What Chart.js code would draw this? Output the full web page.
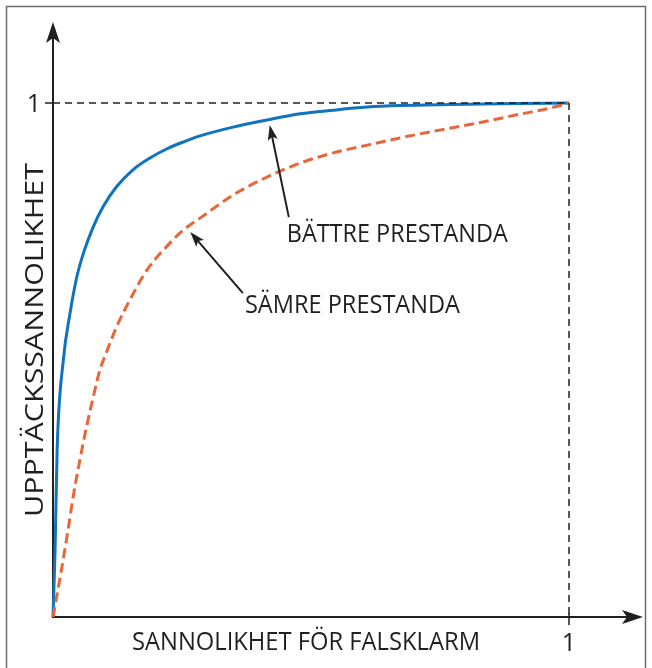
<!DOCTYPE html>
<html>
<head>
<meta charset="utf-8">
<script src="https://cdn.jsdelivr.net/npm/chart.js@4"></script>
<style>
  html, body { margin: 0; padding: 0; background: #fff; }
  canvas { display: block; }
</style>
</head>
<body>
<canvas id="roc" width="652" height="668"></canvas>
<script>
// Data (false alarm prob. -> detection prob.)
const betterFpr = [0, 0.004, 0.008, 0.020, 0.033, 0.046, 0.059, 0.078, 0.097, 0.123, 0.155, 0.188, 0.221, 0.252, 0.285, 0.349, 0.415, 0.479, 0.543, 0.609, 0.672, 0.769, 0.90, 1];
const betterTpr = [0, 0.130, 0.325, 0.500, 0.591, 0.661, 0.708, 0.759, 0.798, 0.837, 0.870, 0.893, 0.911, 0.924, 0.936, 0.953, 0.967, 0.979, 0.986, 0.992, 0.995, 0.997, 0.999, 1];

const worseFpr = [0, 0.014, 0.027, 0.039, 0.052, 0.065, 0.078, 0.091, 0.104, 0.123, 0.149, 0.182, 0.214, 0.253, 0.285, 0.349, 0.415, 0.479, 0.543, 0.609, 0.672, 0.769, 0.833, 0.899, 0.963, 1];
const worseTpr = [0, 0.078, 0.156, 0.233, 0.305, 0.370, 0.428, 0.481, 0.516, 0.564, 0.617, 0.675, 0.714, 0.753, 0.776, 0.821, 0.856, 0.883, 0.903, 0.918, 0.932, 0.951, 0.963, 0.977, 0.990, 1];

// Reference box: (0,1) -> (1,1) -> (1,0)
const refX = [0, 1, 1];
const refY = [1, 1, 0];

const xTitle = 'SANNOLIKHET FÖR FALSKLARM';
const yTitle = 'UPPTÄCKSSANNOLIKHET';
const tickLabel = '1';

// Annotations: arrow tip (on curve), arrow tail, label anchor (data units)
const notes = [
    { text: 'BÄTTRE PRESTANDA', tip: [0.42, 0.957], tail: [0.457, 0.778], at: [0.453, 0.730], width: 221 },
    { text: 'SÄMRE PRESTANDA', tip: [0.266, 0.749], tail: [0.368, 0.630], at: [0.372, 0.592], width: 215 }
];

const INK = '#231f20';
const FONT = '"Open Sans", "Noto Sans", sans-serif';

const toPoints = (xs, ys) => xs.map((x, i) => ({ x: x, y: ys[i] }));

// draw text squeezed/stretched to a target width
function fitText(ctx, text, x, y, width, size) {
    ctx.font = `${size}px ${FONT}`;
    const w = ctx.measureText(text).width;
    ctx.save();
    ctx.translate(x, y);
    ctx.scale(width / w, 1);
    ctx.textAlign = 'left';
    ctx.textBaseline = 'alphabetic';
    ctx.fillText(text, 0, 0);
    ctx.restore();
}

function arrowHead(ctx, tx, ty, angle, len, half, notch) {
    ctx.save();
    ctx.translate(tx, ty);
    ctx.rotate(angle);
    ctx.beginPath();
    ctx.moveTo(0, 0);
    ctx.lineTo(-len, -half);
    ctx.lineTo(-len + notch, 0);
    ctx.lineTo(-len, half);
    ctx.closePath();
    ctx.fill();
    ctx.restore();
}

const framePlugin = {
    id: 'frame',
    beforeDraw(chart) {
        const ctx = chart.ctx;
        ctx.save();
        ctx.fillStyle = '#fff';
        ctx.fillRect(0, 0, chart.width, chart.height);
        ctx.strokeStyle = '#6d6e71';
        ctx.lineWidth = 1.5;
        ctx.strokeRect(6.5, 6.5, 639, 700);
        ctx.restore();
    },
    beforeDatasetsDraw(chart) {
        const ctx = chart.ctx;
        const xs = chart.scales.x, ys = chart.scales.y;
        const x0 = xs.getPixelForValue(0), x1 = xs.getPixelForValue(1);
        const y0 = ys.getPixelForValue(0), y1 = ys.getPixelForValue(1);
        ctx.save();
        ctx.strokeStyle = INK;
        ctx.fillStyle = INK;
        ctx.lineWidth = 2;
        // y axis
        ctx.beginPath();
        ctx.moveTo(x0, y0 + 1);
        ctx.lineTo(x0, 34);
        ctx.stroke();
        arrowHead(ctx, x0, 22, -Math.PI / 2, 21, 7, 5);
        // x axis
        ctx.beginPath();
        ctx.moveTo(x0 - 1, y0);
        ctx.lineTo(632, y0);
        ctx.stroke();
        arrowHead(ctx, 643, y0, 0, 21, 7, 5);
        // ticks at 1
        ctx.lineWidth = 1.5;
        ctx.beginPath();
        ctx.moveTo(x0 - 8, y1);
        ctx.lineTo(x0, y1);
        ctx.moveTo(x1, y0 - 4);
        ctx.lineTo(x1, y0 + 8);
        ctx.stroke();
        // tick labels
        ctx.font = `25px ${FONT}`;
        ctx.textBaseline = 'alphabetic';
        ctx.textAlign = 'center';
        ctx.fillText(tickLabel, 34, y1 + 9);
        ctx.fillText(tickLabel, x1, 651);
        // axis titles
        fitText(ctx, xTitle, 132, 650, 348, 25);
        ctx.save();
        ctx.translate(43, 517);
        ctx.rotate(-Math.PI / 2);
        fitText(ctx, yTitle, 0, 0, 354, 25);
        ctx.restore();
        ctx.restore();
    },
    afterDatasetsDraw(chart) {
        const ctx = chart.ctx;
        const xs = chart.scales.x, ys = chart.scales.y;
        const px = p => [xs.getPixelForValue(p[0]), ys.getPixelForValue(p[1])];
        ctx.save();
        ctx.strokeStyle = INK;
        ctx.fillStyle = INK;
        ctx.lineWidth = 2;
        notes.forEach(n => {
            const [tx, ty] = px(n.tip);
            const [sx, sy] = px(n.tail);
            const ang = Math.atan2(ty - sy, tx - sx);
            ctx.beginPath();
            ctx.moveTo(sx, sy);
            ctx.lineTo(tx - 8 * Math.cos(ang), ty - 8 * Math.sin(ang));
            ctx.stroke();
            arrowHead(ctx, tx, ty, ang, 15, 5, 3);
            const [lx, ly] = px(n.at);
            fitText(ctx, n.text, lx, ly, n.width, 25);
        });
        ctx.restore();
    }
};

new Chart(document.getElementById('roc'), {
    type: 'line',
    data: {
        datasets: [
            {
                label: 'ref',
                data: toPoints(refX, refY),
                borderColor: INK,
                borderWidth: 1.5,
                borderDash: [7, 5],
                pointRadius: 0,
                tension: 0,
                fill: false
            },
            {
                label: 'Sämre',
                data: toPoints(worseFpr, worseTpr),
                borderColor: '#e8663a',
                borderWidth: 3,
                borderDash: [10, 5],
                pointRadius: 0,
                cubicInterpolationMode: 'monotone',
                fill: false
            },
            {
                label: 'Bättre',
                data: toPoints(betterFpr, betterTpr),
                borderColor: '#0f73bd',
                borderWidth: 3,
                pointRadius: 0,
                cubicInterpolationMode: 'monotone',
                fill: false
            }
        ]
    },
    options: {
        responsive: false,
        animation: false,
        devicePixelRatio: 1,
        clip: false,
        layout: { padding: { left: 53, right: 83, top: 103, bottom: 51 } },
        plugins: { legend: { display: false }, tooltip: { enabled: false } },
        scales: {
            x: { type: 'linear', min: 0, max: 1, display: false },
            y: { type: 'linear', min: 0, max: 1, display: false }
        }
    },
    plugins: [framePlugin]
});
</script>
</body>
</html>
